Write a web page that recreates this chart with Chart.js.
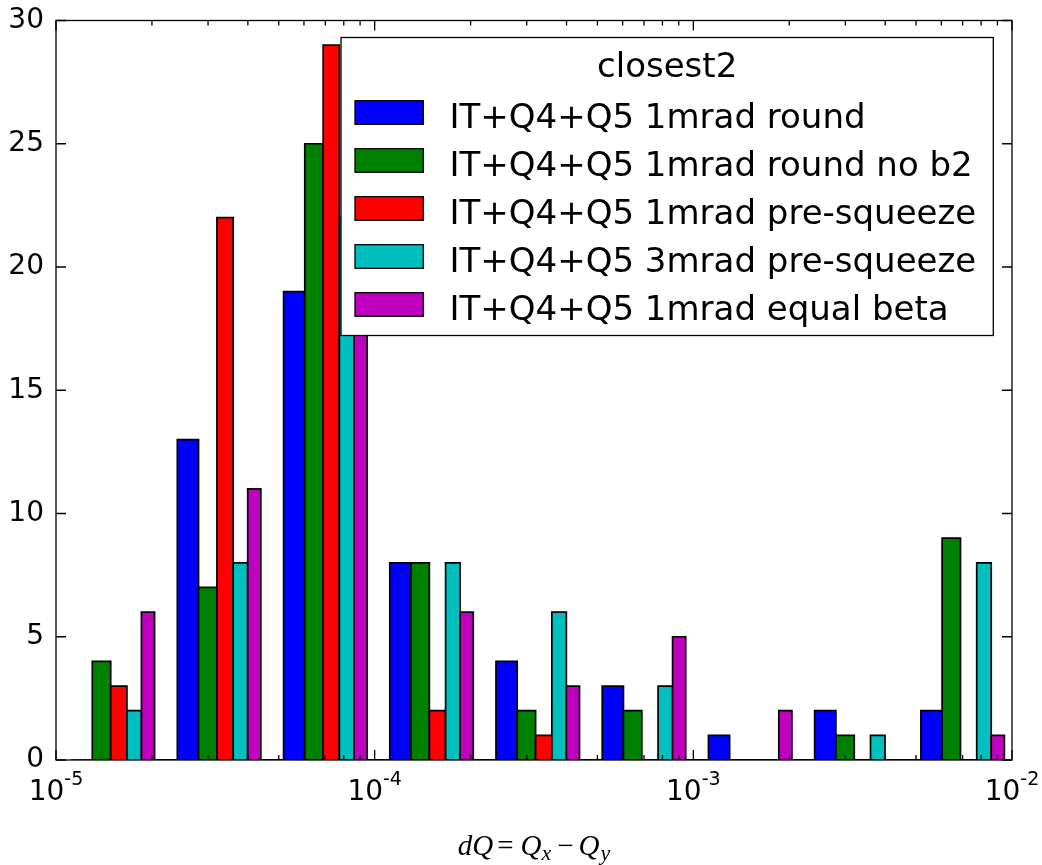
<!DOCTYPE html>
<html>
<head>
<meta charset="utf-8">
<title>closest2 dQ histogram</title>
<script src="https://cdn.jsdelivr.net/npm/chart.js@4.4.0/dist/chart.umd.min.js"></script>
<style>
  html, body { margin: 0; padding: 0; background: #fff; }
  canvas { display: block; }
</style>
</head>
<body>
<canvas id="hist" width="1042" height="865"></canvas>
<script>
// log-spaced bin edges for dQ (3 bins per decade)
const binEdges = [1e-5, 2.154e-5, 4.642e-5, 1e-4, 2.154e-4, 4.642e-4, 1e-3, 2.154e-3, 4.642e-3, 1e-2];

const seriesNames = [
    'IT+Q4+Q5 1mrad round',
    'IT+Q4+Q5 1mrad round no b2',
    'IT+Q4+Q5 1mrad pre-squeeze',
    'IT+Q4+Q5 3mrad pre-squeeze',
    'IT+Q4+Q5 1mrad equal beta'
];
const seriesColors = ['#0000ff', '#008000', '#ff0000', '#00bfbf', '#bf00bf'];

// counts per bin
const roundCounts       = [0, 13, 19, 8, 4, 3, 1, 2, 2];
const roundNoB2Counts   = [4, 7, 25, 8, 2, 2, 0, 1, 9];
const preSqueeze1Counts = [3, 22, 29, 2, 1, 0, 0, 0, 0];
const preSqueeze3Counts = [2, 8, 22, 8, 6, 3, 0, 1, 8];
const equalBetaCounts   = [6, 11, 22, 6, 3, 5, 2, 0, 1];

const yTicks = [0, 5, 10, 15, 20, 25, 30];
const xTickValues = [1e-5, 1e-4, 1e-3, 1e-2];
const xTickExponents = ['-5', '-4', '-3', '-2'];
const legendTitle = 'closest2';

const allCounts = [roundCounts, roundNoB2Counts, preSqueeze1Counts, preSqueeze3Counts, equalBetaCounts];

// side-by-side bars inside each bin, 80% of the (linear) bin width
function barOutline(counts, idx, nSeries) {
    const pts = [];
    for (let k = 0; k < counts.length; k++) {
        const lo = binEdges[k];
        const w = binEdges[k + 1] - lo;
        const bw = 0.8 * w / nSeries;
        const x0 = lo + 0.1 * w + idx * bw;
        const x1 = x0 + bw;
        pts.push({x: x0, y: 0}, {x: x0, y: counts[k]}, {x: x1, y: counts[k]}, {x: x1, y: 0});
    }
    return pts;
}

const datasets = allCounts.map((counts, i) => ({
    label: seriesNames[i],
    data: barOutline(counts, i, allCounts.length),
    showLine: true,
    fill: 'origin',
    backgroundColor: seriesColors[i],
    borderColor: '#000',
    borderWidth: 1.7,
    pointRadius: 0,
    tension: 0,
    order: allCounts.length - i
}));

const SANS = '"DejaVu Sans", sans-serif';
const SERIF = '"Liberation Serif", serif';

// frame, inside ticks, x labels, axis title and the legend box
const decorations = {
    id: 'decorations',
    afterDatasetsDraw(chart) {
        const ctx = chart.ctx;
        const a = chart.chartArea;
        const xs = chart.scales.x;
        const ys = chart.scales.y;
        ctx.save();
        ctx.strokeStyle = '#000';
        ctx.lineWidth = 1.3;

        ctx.beginPath();
        yTicks.forEach(v => {
            const py = ys.getPixelForValue(v);
            ctx.moveTo(a.left, py); ctx.lineTo(a.left + 10, py);
            ctx.moveTo(a.right, py); ctx.lineTo(a.right - 10, py);
        });
        xTickValues.forEach(v => {
            const px = xs.getPixelForValue(v);
            ctx.moveTo(px, a.bottom); ctx.lineTo(px, a.bottom - 10);
            ctx.moveTo(px, a.top); ctx.lineTo(px, a.top + 10);
        });
        for (let d = -5; d < -2; d++) {
            for (let m = 2; m <= 9; m++) {
                const px = xs.getPixelForValue(m * Math.pow(10, d));
                ctx.moveTo(px, a.bottom); ctx.lineTo(px, a.bottom - 5);
                ctx.moveTo(px, a.top); ctx.lineTo(px, a.top + 5);
            }
        }
        ctx.stroke();
        ctx.strokeRect(a.left, a.top, a.right - a.left, a.bottom - a.top);

        // x tick labels: 10 with raised exponent
        ctx.fillStyle = '#000';
        ctx.textBaseline = 'alphabetic';
        ctx.textAlign = 'left';
        xTickValues.forEach((v, i) => {
            const px = xs.getPixelForValue(v);
            ctx.font = '28px ' + SANS;
            const wBase = ctx.measureText('10').width;
            ctx.font = '19px ' + SANS;
            const wExp = ctx.measureText(xTickExponents[i]).width;
            const x0 = px - (wBase + wExp) / 2;
            ctx.font = '28px ' + SANS;
            ctx.fillText('10', x0, a.bottom + 40);
            ctx.font = '19px ' + SANS;
            ctx.fillText(xTickExponents[i], x0 + wBase, a.bottom + 25);
        });

        // axis title dQ = Q_x - Q_y
        const parts = [
            {t: 'd', f: 'italic 29px ' + SERIF, dy: 0, gap: 0},
            {t: 'Q', f: 'italic 29px ' + SERIF, dy: 0, gap: 0},
            {t: '=', f: '29px ' + SERIF, dy: 0, gap: 4},
            {t: 'Q', f: 'italic 29px ' + SERIF, dy: 0, gap: 7},
            {t: 'x', f: 'italic 22px ' + SERIF, dy: 5, gap: 0},
            {t: '\u2212', f: '29px ' + SERIF, dy: 0, gap: 6},
            {t: 'Q', f: 'italic 29px ' + SERIF, dy: 0, gap: 5},
            {t: 'y', f: 'italic 22px ' + SERIF, dy: 5, gap: 1}
        ];
        let total = 0;
        parts.forEach(p => { ctx.font = p.f; p.w = ctx.measureText(p.t).width; total += p.gap + p.w; });
        let cx = (a.left + a.right) / 2 - total / 2;
        parts.forEach(p => {
            cx += p.gap;
            ctx.font = p.f;
            ctx.fillText(p.t, cx, 855 + p.dy);
            cx += p.w;
        });

        // legend
        const lx = 341, ly = 37.5, lw = 652.3, lh = 298;
        ctx.fillStyle = '#fff';
        ctx.fillRect(lx, ly, lw, lh);
        ctx.strokeRect(lx, ly, lw, lh);
        ctx.font = '34px ' + SANS;
        ctx.fillStyle = '#000';
        ctx.textAlign = 'center';
        ctx.fillText(legendTitle, lx + lw / 2, 77);
        ctx.textAlign = 'left';
        seriesNames.forEach((name, i) => {
            const py = 100.7 + 48 * i;
            ctx.fillStyle = seriesColors[i];
            ctx.fillRect(355, py, 68.3, 23.6);
            ctx.strokeRect(355, py, 68.3, 23.6);
            ctx.fillStyle = '#000';
            ctx.fillText(name, 449.5, 127.7 + 48 * i);
        });
        ctx.restore();
    }
};

new Chart(document.getElementById('hist'), {
    type: 'scatter',
    data: { datasets: datasets },
    options: {
        responsive: false,
        animation: false,
        layout: { padding: { left: 0, top: 20.5, right: 30, bottom: 0 } },
        plugins: {
            legend: { display: false },
            tooltip: { enabled: false }
        },
        scales: {
            x: {
                type: 'logarithmic',
                min: 1e-5,
                max: 1e-2,
                grid: { display: false },
                border: { display: false },
                ticks: { display: false },
                afterFit(scale) {
                    scale.height = 105;
                    scale.paddingLeft = 0;
                    scale.paddingRight = 0;
                }
            },
            y: {
                min: 0,
                max: 30,
                grid: { display: false, drawTicks: false },
                border: { display: false },
                ticks: {
                    stepSize: 5,
                    padding: 12,
                    color: '#000',
                    font: { family: 'DejaVu Sans', size: 28 }
                },
                afterFit(scale) {
                    scale.width = 56;
                    scale.paddingTop = 0;
                    scale.paddingBottom = 0;
                }
            }
        }
    },
    plugins: [decorations]
});
</script>
</body>
</html>
